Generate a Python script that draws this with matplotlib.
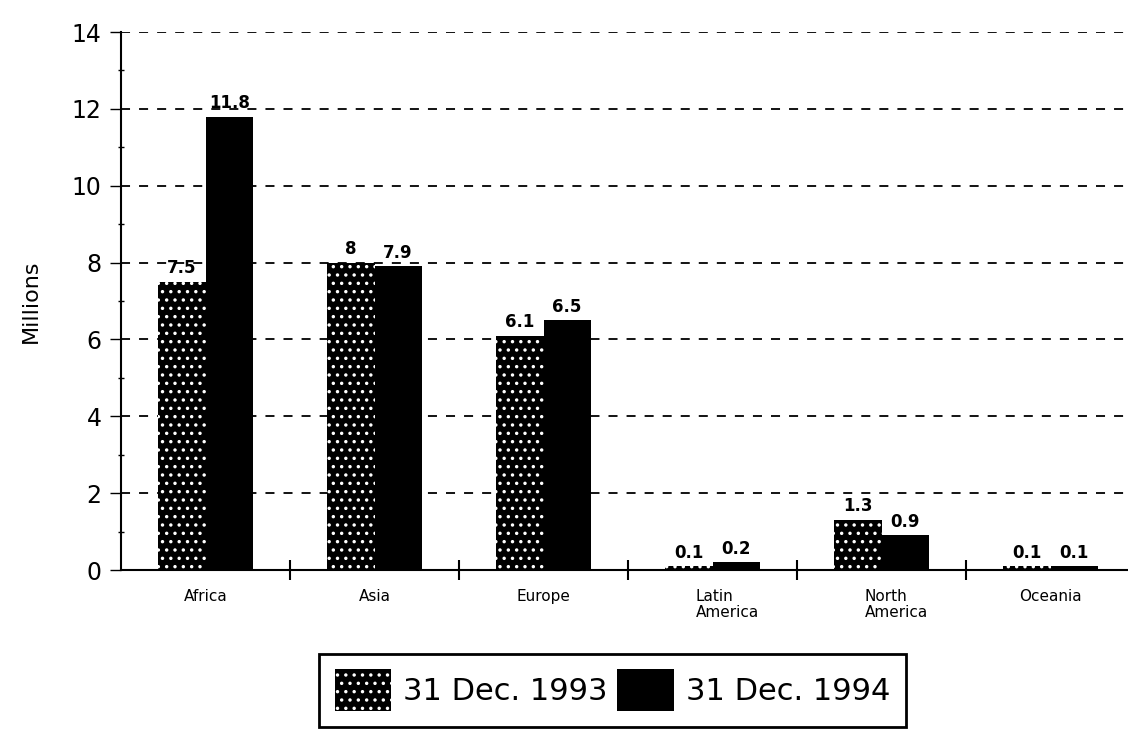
import matplotlib
matplotlib.use("Agg")
import matplotlib.pyplot as plt
import numpy as np
from matplotlib.patches import Patch

categories = ["Africa", "Asia", "Europe", "Latin\nAmerica", "North\nAmerica", "Oceania"]
series_names = ["31 Dec. 1993", "31 Dec. 1994"]
values_1993 = [7.5, 8, 6.1, 0.1, 1.3, 0.1]
values_1994 = [11.8, 7.9, 6.5, 0.2, 0.9, 0.1]
labels_1993 = ["7.5", "8", "6.1", "0.1", "1.3", "0.1"]
labels_1994 = ["11.8", "7.9", "6.5", "0.2", "0.9", "0.1"]
yticks = [0, 2, 4, 6, 8, 10, 12, 14]

plt.rcParams['hatch.linewidth'] = 1.25
plt.rcParams['hatch.color'] = 'white'

fig = plt.figure(figsize=(11.28, 7.33), dpi=100)
ax = fig.add_axes([121/1128, 163/733, 1 - 121/1128, (570-32)/733])

x = np.arange(len(categories))
w = 0.28
ax.bar(x - w/2, values_1993, w, color='black', hatch='..', edgecolor='white', linewidth=0, zorder=3)
ax.bar(x + w/2, values_1994, w, color='black', linewidth=0, zorder=3)

for xi, v, t in zip(x - w/2, values_1993, labels_1993):
    ax.text(xi, v + 0.12, t, ha='center', va='bottom', fontsize=12, fontweight='bold', zorder=4)
for xi, v, t in zip(x + w/2, values_1994, labels_1994):
    ax.text(xi, v + 0.12, t, ha='center', va='bottom', fontsize=12, fontweight='bold', zorder=4)

ax.set_xlim(-0.5, (1128-121)/169 - 0.5)
ax.set_ylim(0, 14)
ax.set_yticks(yticks)
ax.set_yticklabels([str(t) for t in yticks], fontsize=17)
ax.set_yticks(np.arange(1, 14, 2), minor=True)
ax.tick_params(axis='y', which='major', direction='out', length=8, width=1, pad=6)
ax.tick_params(axis='y', which='minor', direction='inout', length=5, width=1)

ax.set_xticks(np.arange(0.5, len(categories) - 0.5, 1))
ax.set_xticklabels([])
ax.tick_params(axis='x', which='major', direction='inout', length=14, width=1.5)
for xi, c in zip(x, categories):
    multi = '\n' in c
    ax.text(xi - 0.1 if multi else xi, -0.5, c, ha='left' if multi else 'center', va='top',
            fontsize=11, linespacing=1.1)

ax.yaxis.grid(True, which='major', linestyle=(0, (5, 5)), color='black', linewidth=1.3, zorder=0)
ax.set_axisbelow(True)
for s in ['top', 'right']:
    ax.spines[s].set_visible(False)
ax.spines['left'].set_linewidth(1.5)
ax.spines['bottom'].set_linewidth(1.5)
ax.set_ylabel("Millions", fontsize=16, labelpad=22)

handles = [Patch(facecolor='black', hatch='..', edgecolor='white', linewidth=0),
           Patch(facecolor='black', linewidth=0)]
leg = fig.legend(handles, series_names, loc='lower center', bbox_to_anchor=(0.543, -0.012),
                 ncol=2, fontsize=22, frameon=True, fancybox=False,
                 handlelength=1.85, handleheight=1.75, handletextpad=0.4,
                 columnspacing=0.3, borderpad=0.5, edgecolor='black', framealpha=1)
leg.get_frame().set_linewidth(2)

fig.savefig("out.png", dpi=100)
